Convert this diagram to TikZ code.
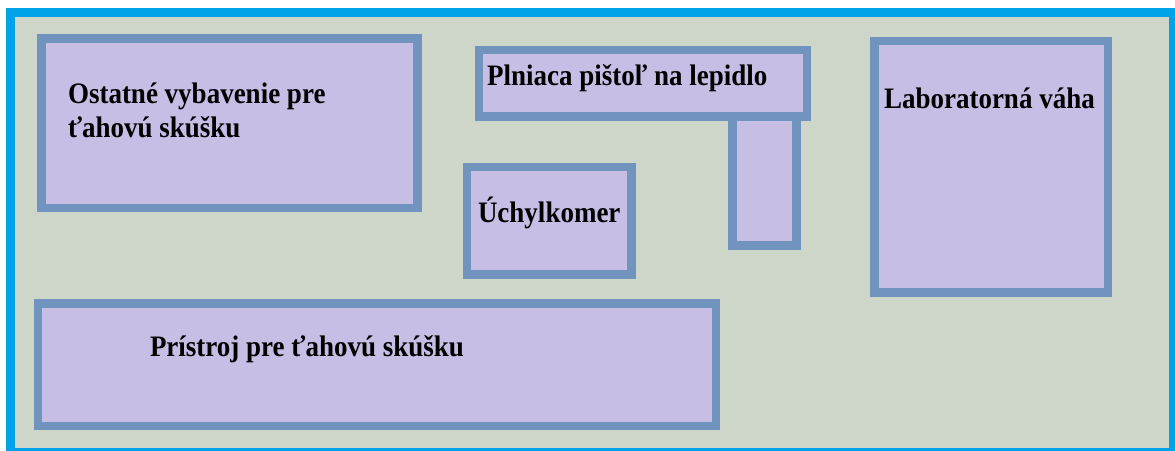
\documentclass[tikz,border=0pt]{standalone}
\usepackage{fontspec}
\setmainfont{Liberation Serif}
\definecolor{frameblue}{RGB}{0,163,232}
\definecolor{floor}{RGB}{206,214,201}
\definecolor{itemfill}{RGB}{199,190,230}
\definecolor{itemedge}{RGB}{113,148,190}
% labels are set slightly taller than the font's natural shape
\newcommand\tallText[1]{\scalebox{1}[1.1]{#1}}
\tikzset{
  item/.style={draw=itemedge, fill=itemfill, line width=8.5pt, rectangle,
    inner sep=0pt, outer sep=0pt},
  lbl/.style={anchor=base west, inner sep=0pt, outer sep=0pt,
    font=\fontsize{27}{32}\selectfont\bfseries, text=black},
}
\begin{document}
\begin{tikzpicture}[x=1pt, y=-1pt]
  \useasboundingbox (0,0) rectangle (1175,450);
  \clip (0,0) rectangle (1175,450);
  \fill[white] (0,0) rectangle (1175,450);
  % room outline
  \draw[frameblue, fill=floor, line width=9pt] (10,12) rectangle (1173.5,452);

  % equipment
  \node[item, minimum width=64pt, minimum height=128.5pt] (stand) at (764.5,181.25) {};
  \node[item, minimum width=376pt, minimum height=169.5pt] (ostatne) at (229.5,123.25) {};
  \node[item, minimum width=328pt, minimum height=66.5pt] (pistol) at (643,83.25) {};
  \node[item, minimum width=164.5pt, minimum height=107.5pt] (uchyl) at (549.25,220.75) {};
  \node[item, minimum width=233.5pt, minimum height=251.5pt] (vaha) at (991.25,166.75) {};
  \node[item, minimum width=678pt, minimum height=122.5pt] (pristroj) at (377,364.75) {};

  % labels
  \node[lbl] (ostatneA) at (68,103) {\tallText{Ostatné vybavenie pre}};
  \node[lbl] (ostatneB) at (68,137) {\tallText{ťahovú skúšku}};
  \node[lbl] (pistolT) at (487,85) {\tallText{Plniaca pištoľ na lepidlo}};
  \node[lbl] (uchylT) at (478,222.7) {\tallText{Úchylkomer}};
  \node[lbl] (vahaT) at (884,108.3) {\tallText{Laboratorná váha}};
  \node[lbl] (pristrojT) at (150,356.7) {\tallText{Prístroj pre ťahovú skúšku}};
\end{tikzpicture}
\end{document}
